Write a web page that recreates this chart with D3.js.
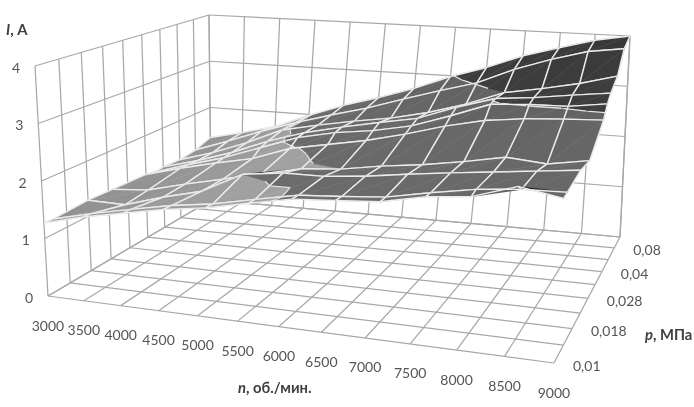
<!DOCTYPE html>
<html><head><meta charset="utf-8">
<script src="https://cdn.jsdelivr.net/npm/d3@7/dist/d3.min.js"></script>
<style>html,body{margin:0;padding:0;background:#fff}svg{display:block}</style>
</head><body><svg id="c" width="694" height="407"></svg>
<script>
// ---- data ----
const speedLabels = ["3000","3500","4000","4500","5000","5500","6000","6500","7000","7500","8000","8500","9000"];
const pressureLabels = ["0,01","","0,018","","0,028","","0,04","","0,08",""];
const currentTicks = [0,1,2,3,4];
const surfaceDepth = [0,0.4,2,3.2,5,5.5,6,7,8,9];
const row0 = [1.27,1.44,1.57,1.70,1.79,1.93,2.06,2.10,2.14,2.28,2.34,2.55,2.43];
const row1 = [1.26,1.42,1.56,1.69,1.78,1.92,2.05,2.09,2.14,2.27,2.38,2.44,2.45];
const row2 = [1.29,1.27,1.47,1.64,2.00,2.08,2.08,2.14,2.23,2.31,2.38,2.45,2.52];
const row3 = [1.27,1.32,1.49,1.64,1.80,1.95,2.00,2.11,2.19,2.30,2.43,2.37,2.48];
const row4 = [1.24,1.42,1.58,1.72,1.97,2.10,2.23,2.40,2.60,2.75,2.83,2.87,2.90];
const row5 = [1.20,1.41,1.60,1.85,2.10,2.25,2.34,2.48,2.72,2.98,3.02,3.03,3.12];
const row6 = [1.22,1.40,1.62,1.90,2.12,2.28,2.42,2.55,2.81,3.02,3.08,3.17,3.25];
const row7 = [1.20,1.40,1.66,1.97,2.12,2.25,2.36,2.52,2.73,3.00,3.12,3.26,3.44];
const row8 = [1.24,1.48,1.74,1.97,2.18,2.37,2.60,2.82,3.02,3.33,3.57,3.76,3.85];
const row9 = [1.35,1.51,1.69,1.98,2.24,2.45,2.69,2.98,3.21,3.49,3.69,3.88,4.00];
const surfaceRows = [row0,row1,row2,row3,row4,row5,row6,row7,row8,row9];
const bandLow = ["#b0b0b0","#8c8c8c","#6c6c6c","#3e3e3e"];
const bandHigh = ["#b0b0b0","#a2a2a2","#626262","#383838"];

// ---- scales ----
const nScale = d3.scalePoint().domain(speedLabels).range([0,1]);
const depthScale = d3.scaleLinear().domain([0,pressureLabels.length-1]).range([0,1]);
const iScale = d3.scaleLinear().domain([0,4]).range([0,1]);

// ---- perspective box: bottom and top plane corners (front-left, front-right, back-right, back-left)
const floorQuad = [[48,296],[554,363],[620,237],[211,200]];
const topQuad = [[35,66],[570,92],[630,36],[209,15]];
function homography(q){
  const [[x0,y0],[x1,y1],[x2,y2],[x3,y3]] = q;
  const dx1=x1-x2,dx2=x3-x2,sx=x0-x1+x2-x3,dy1=y1-y2,dy2=y3-y2,sy=y0-y1+y2-y3;
  const den=dx1*dy2-dx2*dy1;
  const g=(sx*dy2-dx2*sy)/den,h=(dx1*sy-sx*dy1)/den;
  const a=x1-x0+g*x1,b=x3-x0+h*x3,d=y1-y0+g*y1,e=y3-y0+h*y3;
  return (u,v)=>{const t=g*u+h*v+1;return [(a*u+b*v+x0)/t,(d*u+e*v+y0)/t];};
}
const floorH=homography(floorQuad), topH=homography(topQuad);
function project(u,v,w){
  const f=floorH(u,v), t=topH(u,v);
  return [f[0]+(t[0]-f[0])*w, f[1]+(t[1]-f[1])*w];
}
const line=d3.line();
const svg=d3.select("#c");
svg.append("defs").append("filter").attr("id","soft").attr("x","-2%").attr("y","-2%").attr("width","104%").attr("height","104%")
  .append("feGaussianBlur").attr("stdDeviation",0.5);
const root=svg.append("g").attr("filter","url(#soft)");

// ---- walls and floor grid ----
const grid=root.append("g").attr("fill","none").attr("stroke","#a8a8a8").attr("stroke-width",1.25);
const seg=(a,b)=>grid.append("path").attr("d",line([a,b]));
speedLabels.forEach(n=>{const u=nScale(n);
  seg(project(u,0,0),project(u,1,0));
  seg(project(u,1,0),project(u,1,1));
});
pressureLabels.forEach((p,i)=>{const v=depthScale(i);
  seg(project(0,v,0),project(1,v,0));
  seg(project(0,v,0),project(0,v,1));
});
currentTicks.forEach(t=>{const w=iScale(t);
  seg(project(0,0,w),project(0,1,w));
  seg(project(0,1,w),project(1,1,w));
});
seg(project(1,1,0),project(1,1,1));

// ---- surface ----
const surf=root.append("g").attr("stroke-linejoin","round");
const vertex=(r,c)=>({u:nScale(speedLabels[c]),v:depthScale(surfaceDepth[r]),val:surfaceRows[r][c]});
const mix=(a,b,t)=>({u:a.u+(b.u-a.u)*t,v:a.v+(b.v-a.v)*t,val:a.val+(b.val-a.val)*t});
function clip(poly,level,keepAbove){
  const out=[];
  poly.forEach((p,i)=>{
    const q=poly[(i+1)%poly.length];
    const pin=keepAbove?p.val>=level:p.val<=level, qin=keepAbove?q.val>=level:q.val<=level;
    if(pin) out.push(p);
    if(pin!==qin) out.push(mix(p,q,(level-p.val)/(q.val-p.val)));
  });
  return out;
}
const toScreen=p=>project(p.u,p.v,iScale(p.val));
function drawTriangle(tri){
  const back=d3.polygonArea(tri.map(toScreen))<0;
  bandLow.forEach((lo,b)=>{
    let poly=clip(clip(tri,b,true),b+1,false);
    if(poly.length<3) return;
    const fill=back?"#1e1e1e":d3.interpolateRgb(lo,bandHigh[b])(d3.mean(poly,p=>p.val)-b);
    surf.append("path").attr("d",line(poly.map(toScreen))+"Z").attr("fill",fill).attr("stroke",fill).attr("stroke-width",0.5);
  });
  // level line between colour bands
  [1,2,3].forEach(L=>{
    const pts=[];
    tri.forEach((p,i)=>{const q=tri[(i+1)%3];
      if((p.val-L)*(q.val-L)<0) pts.push(mix(p,q,(L-p.val)/(q.val-p.val)));
    });
    if(pts.length===2) surf.append("path").attr("d",line(pts.map(toScreen))).attr("fill","none").attr("stroke","#e2e2e2").attr("stroke-width",1.3);
  });
}
for(let r=surfaceRows.length-2;r>=0;r--){
  for(let c=0;c<speedLabels.length-1;c++){
    const a=vertex(r,c),b=vertex(r,c+1),d=vertex(r+1,c+1),e=vertex(r+1,c);
    drawTriangle([a,b,d]); drawTriangle([a,d,e]);
    const edges=[[a,b],[b,d],[d,e],[e,a]];
    edges.forEach(([p,q])=>surf.append("path").attr("d",line([toScreen(p),toScreen(q)])).attr("fill","none").attr("stroke","#ececec").attr("stroke-width",1.4));
  }
}

// ---- text ----
const txt=root.append("g").attr("font-family","Lato, 'Open Sans', sans-serif").attr("fill","#555555").attr("font-size",14);
speedLabels.forEach(n=>{const p=project(nScale(n),0,0);
  txt.append("text").attr("x",p[0]).attr("y",p[1]+29).attr("text-anchor","middle").attr("dominant-baseline","central").text(n);
});
pressureLabels.forEach((l,i)=>{ if(!l) return; const p=project(1,depthScale(i),0);
  txt.append("text").attr("x",p[0]+19).attr("y",p[1]+2).attr("dominant-baseline","central").text(l);
});
currentTicks.forEach(t=>{const p=project(0,0,iScale(t));
  txt.append("text").attr("x",p[0]-19).attr("y",p[1]+1).attr("text-anchor","middle").attr("dominant-baseline","central").text(t);
});
const title=(x,y,it,rest)=>{const t=txt.append("text").attr("x",x).attr("y",y).attr("dominant-baseline","central").attr("font-weight","700").attr("font-size",14.8).attr("fill","#404040");
  t.append("tspan").attr("font-style","italic").text(it); t.append("tspan").text(rest);};
title(6,29,"I",", А");
title(238,387,"n",", об./мин.");
title(645,334,"p",", МПа");
</script></body></html>
